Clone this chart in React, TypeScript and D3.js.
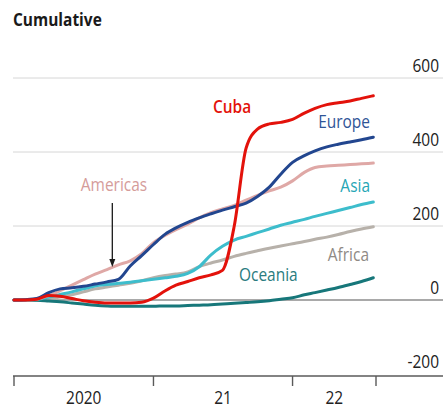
import { useEffect, useRef } from "react";
import * as d3 from "d3";

// monthly points, Jan 2020 .. Aug 2022
const months = d3.timeMonths(new Date(2020, 0, 1), new Date(2022, 7, 2));

const cuba = [0, 0, 2, 12, 10, 4, -2, -6, -8, -8, -8, -6, 5, 25, 40, 50, 60, 68, 80, 200, 410, 462, 476, 480, 488, 505, 518, 528, 533, 538, 545, 552];
const europe = [0, 1, 4, 20, 30, 33, 37, 43, 49, 56, 92, 120, 150, 178, 195, 210, 222, 233, 243, 252, 262, 280, 305, 340, 372, 390, 403, 414, 421, 427, 433, 440];
const americas = [0, 0, 2, 12, 25, 40, 55, 70, 82, 95, 106, 125, 155, 175, 190, 205, 222, 236, 246, 256, 270, 283, 295, 305, 322, 345, 358, 362, 364, 366, 368, 370];
const asia = [0, 0, 2, 8, 15, 22, 30, 38, 42, 45, 48, 52, 56, 60, 64, 72, 90, 122, 145, 162, 172, 182, 192, 202, 210, 218, 226, 234, 242, 250, 258, 265];
const africa = [0, 0, 0, 3, 8, 14, 22, 30, 35, 40, 45, 52, 60, 66, 70, 76, 90, 100, 108, 118, 126, 133, 140, 146, 152, 158, 164, 170, 177, 185, 192, 198];
const oceania = [0, 0, -1, -3, -5, -8, -11, -14, -16, -17, -17, -17, -17, -16, -16, -15, -14, -13, -11, -9, -7, -5, -2, 2, 6, 14, 20, 27, 34, 42, 50, 60];

const yTicks = [-200, 0, 200, 400, 600];
const yearTicks = [new Date(2020, 0, 1), new Date(2021, 0, 1), new Date(2022, 0, 1), new Date(2022, 7, 8)];
const yearLabels = ["2020", "21", "22"];

const FONT = "'Open Sans', sans-serif";
const NARROW = 0.86; // squeeze to mimic the condensed face

const App = () => {
  const svgRef = useRef<SVGSVGElement>(null);

  useEffect(() => {
    const svg = d3.select(svgRef.current);
    svg.selectAll("*").remove();

    const width = 443;
    const height = 409;
    svg.attr("width", width).attr("height", height);

    const x = d3.scaleTime().domain([yearTicks[0], yearTicks[3]]).range([14, 376]);
    const y = d3.scaleLinear().domain([-200, 600]).range([374, 78]);

    const at = (px: number, py: number) => `translate(${px},${py}) scale(${NARROW},1)`;

    // title
    svg.append("text")
      .attr("transform", at(13, 26))
      .style("font-family", FONT)
      .style("font-weight", "bold")
      .style("font-size", "18px")
      .style("fill", "#1a1a1a")
      .text("Cumulative");

    // gridlines + y labels
    const grid = svg.append("g");
    grid.selectAll("line")
      .data(yTicks.filter((d) => d > -200))
      .join("line")
      .attr("x1", 13)
      .attr("x2", width)
      .attr("y1", (d) => y(d))
      .attr("y2", (d) => y(d))
      .style("stroke", (d) => (d === 0 ? "#8c8c8c" : "#d6d6d6"))
      .style("stroke-width", (d) => (d === 0 ? 1.6 : 1));

    grid.selectAll("text")
      .data(yTicks)
      .join("text")
      .attr("transform", (d) => at(439, y(d) - 6))
      .attr("text-anchor", "end")
      .style("font-family", FONT)
      .style("font-size", "18px")
      .style("fill", "#222")
      .text((d) => d);

    // x axis
    const axis = svg.append("g");
    axis.append("line")
      .attr("x1", 13)
      .attr("x2", width)
      .attr("y1", y(-200) + 2)
      .attr("y2", y(-200) + 2)
      .style("stroke", "#5a5a5a")
      .style("stroke-width", 1.4);
    axis.selectAll("line.tick")
      .data(yearTicks)
      .join("line")
      .attr("class", "tick")
      .attr("x1", (d) => x(d))
      .attr("x2", (d) => x(d))
      .attr("y1", y(-200) + 2)
      .attr("y2", y(-200) + 12)
      .style("stroke", "#5a5a5a")
      .style("stroke-width", 1.4);
    axis.selectAll("text")
      .data(yearLabels)
      .join("text")
      .attr("transform", (d, i) => at((x(yearTicks[i]) + x(yearTicks[i + 1])) / 2, 404))
      .attr("text-anchor", "middle")
      .style("font-family", FONT)
      .style("font-size", "18px")
      .style("fill", "#222")
      .text((d) => d);

    // lines
    const line = d3.line<number>()
      .x((d, i) => x(months[i]))
      .y((d) => y(d))
      .curve(d3.curveMonotoneX);

    const series = [
      { values: africa, color: "#b7b1aa" },
      { values: oceania, color: "#17777a" },
      { values: asia, color: "#3dbdcc" },
      { values: americas, color: "#dfa8a6" },
      { values: europe, color: "#22468f" },
      { values: cuba, color: "#e3120b" },
    ];

    svg.append("g")
      .selectAll("path")
      .data(series)
      .join("path")
      .attr("d", (d) => line(d.values))
      .style("fill", "none")
      .style("stroke", (d) => d.color)
      .style("stroke-width", 3)
      .style("stroke-linejoin", "round")
      .style("stroke-linecap", "round");

    // labels
    const labels = [
      { text: "Cuba", x: 232, y: 113, anchor: "middle", color: "#e3120b", weight: "600" },
      { text: "Europe", x: 370, y: 128, anchor: "end", color: "#2f5597", weight: "normal" },
      { text: "Americas", x: 114, y: 191, anchor: "middle", color: "#d59c9a", weight: "normal" },
      { text: "Asia", x: 370, y: 192, anchor: "end", color: "#26a6b5", weight: "normal" },
      { text: "Africa", x: 369, y: 261, anchor: "end", color: "#8f8a85", weight: "normal" },
      { text: "Oceania", x: 239, y: 281, anchor: "start", color: "#2a7c80", weight: "normal" },
    ];
    svg.append("g")
      .selectAll("text")
      .data(labels)
      .join("text")
      .attr("transform", (d) => at(d.x, d.y))
      .attr("text-anchor", (d) => d.anchor)
      .style("font-family", FONT)
      .style("font-size", "18px")
      .style("font-weight", (d) => d.weight)
      .style("fill", (d) => d.color)
      .text((d) => d.text);

    // arrow for Americas
    const ax = x(new Date(2020, 8, 15));
    svg.append("line")
      .attr("x1", ax)
      .attr("x2", ax)
      .attr("y1", 203)
      .attr("y2", 262)
      .style("stroke", "#1a1a1a")
      .style("stroke-width", 1.3);
    svg.append("path")
      .attr("d", `M${ax - 3},${259} L${ax + 3},${259} L${ax},${267} Z`)
      .style("fill", "#1a1a1a");
  }, []);

  return <svg ref={svgRef} style={{ position: "absolute", left: 0, top: 0 }} />;
};

export default App;
